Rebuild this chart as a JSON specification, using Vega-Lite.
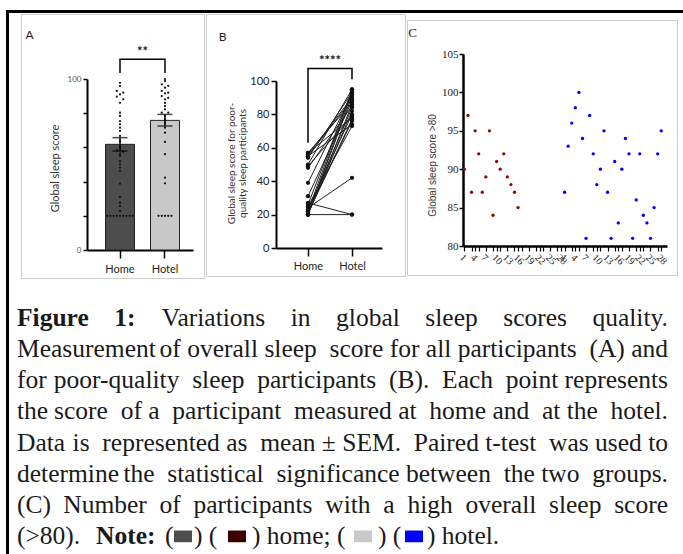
{
  "$schema": "https://vega.github.io/schema/vega-lite/v6.json",
  "background": "white",
  "padding": {"left": 6, "top": 10, "right": 0, "bottom": 0},
  "spacing": 0,
  "resolve": {"scale": {"color": "independent", "fill": "independent"}},
  "datasets": {
    "aSum": [
      {"g": "Home", "mean": 61.8, "lo": 57.9, "hi": 65.7},
      {"g": "Hotel", "mean": 75.8, "lo": 72.5, "hi": 79.3}
    ],
    "aDots": [
      {"g": "Home", "v": 97.8, "j": 0}, {"g": "Home", "v": 95.9, "j": 0}, {"g": "Home", "v": 93, "j": -1}, {"g": "Home", "v": 92, "j": 1},
      {"g": "Home", "v": 91, "j": 0}, {"g": "Home", "v": 89.7, "j": -1}, {"g": "Home", "v": 88.1, "j": 1}, {"g": "Home", "v": 86.1, "j": 0},
      {"g": "Home", "v": 80.3, "j": 0}, {"g": "Home", "v": 78.4, "j": 0}, {"g": "Home", "v": 75.4, "j": 0}, {"g": "Home", "v": 73.5, "j": 0},
      {"g": "Home", "v": 71.5, "j": 0}, {"g": "Home", "v": 69.6, "j": 0}, {"g": "Home", "v": 66.7, "j": 0}, {"g": "Home", "v": 63.7, "j": 0},
      {"g": "Home", "v": 60.2, "j": 0}, {"g": "Home", "v": 58.3, "j": -1}, {"g": "Home", "v": 57.5, "j": 1}, {"g": "Home", "v": 56.3, "j": 0},
      {"g": "Home", "v": 55, "j": 0}, {"g": "Home", "v": 52, "j": 0}, {"g": "Home", "v": 50.1, "j": 0}, {"g": "Home", "v": 48.1, "j": 0},
      {"g": "Home", "v": 46.2, "j": 0}, {"g": "Home", "v": 38.8, "j": 0}, {"g": "Home", "v": 31, "j": 0}, {"g": "Home", "v": 27.7, "j": 0},
      {"g": "Home", "v": 25.7, "j": 0}, {"g": "Home", "v": 22.8, "j": 0},
      {"g": "Home", "v": 20, "j": -4}, {"g": "Home", "v": 20, "j": -3}, {"g": "Home", "v": 20, "j": -2}, {"g": "Home", "v": 20, "j": -1},
      {"g": "Home", "v": 20, "j": 0}, {"g": "Home", "v": 20, "j": 1}, {"g": "Home", "v": 20, "j": 2}, {"g": "Home", "v": 20, "j": 3},
      {"g": "Home", "v": 20, "j": 4},
      {"g": "Hotel", "v": 100, "j": 0}, {"g": "Hotel", "v": 98.8, "j": 0}, {"g": "Hotel", "v": 96.9, "j": -1}, {"g": "Hotel", "v": 96, "j": 1},
      {"g": "Hotel", "v": 94.9, "j": 0}, {"g": "Hotel", "v": 93, "j": -1}, {"g": "Hotel", "v": 92, "j": 1}, {"g": "Hotel", "v": 91.6, "j": 0},
      {"g": "Hotel", "v": 90, "j": -1}, {"g": "Hotel", "v": 89, "j": 1}, {"g": "Hotel", "v": 88.1, "j": 0}, {"g": "Hotel", "v": 86.1, "j": 0},
      {"g": "Hotel", "v": 84.2, "j": 0}, {"g": "Hotel", "v": 82.3, "j": 0}, {"g": "Hotel", "v": 80.3, "j": -1}, {"g": "Hotel", "v": 80.3, "j": 1},
      {"g": "Hotel", "v": 78.4, "j": 0}, {"g": "Hotel", "v": 76.4, "j": 0}, {"g": "Hotel", "v": 74.4, "j": 0}, {"g": "Hotel", "v": 71.5, "j": 0},
      {"g": "Hotel", "v": 68.6, "j": 0}, {"g": "Hotel", "v": 63.2, "j": 0}, {"g": "Hotel", "v": 56, "j": 0}, {"g": "Hotel", "v": 42.3, "j": 0},
      {"g": "Hotel", "v": 39, "j": 0},
      {"g": "Hotel", "v": 20, "j": -2}, {"g": "Hotel", "v": 20, "j": -1}, {"g": "Hotel", "v": 20, "j": 0}, {"g": "Hotel", "v": 20, "j": 1},
      {"g": "Hotel", "v": 20, "j": 2}
    ],
    "aBr": [
      {"g": "Home", "y": 103.5, "o": 1}, {"g": "Home", "y": 111.5, "o": 2},
      {"g": "Hotel", "y": 111.5, "o": 3}, {"g": "Hotel", "y": 103.5, "o": 4}
    ],
    "bBr": [
      {"g": "Home", "y": 63, "o": 1}, {"g": "Home", "y": 107.5, "o": 2},
      {"g": "Hotel", "y": 107.5, "o": 3}, {"g": "Hotel", "y": 101, "o": 4}
    ],
    "bPairs": [
      {"id": 1, "g": "Home", "v": 57}, {"id": 1, "g": "Hotel", "v": 87},
      {"id": 2, "g": "Home", "v": 56}, {"id": 2, "g": "Hotel", "v": 90},
      {"id": 3, "g": "Home", "v": 55}, {"id": 3, "g": "Hotel", "v": 74},
      {"id": 4, "g": "Home", "v": 54}, {"id": 4, "g": "Hotel", "v": 93},
      {"id": 5, "g": "Home", "v": 57}, {"id": 5, "g": "Hotel", "v": 78},
      {"id": 6, "g": "Home", "v": 50}, {"id": 6, "g": "Hotel", "v": 95},
      {"id": 7, "g": "Home", "v": 48}, {"id": 7, "g": "Hotel", "v": 85},
      {"id": 8, "g": "Home", "v": 39}, {"id": 8, "g": "Hotel", "v": 92},
      {"id": 9, "g": "Home", "v": 31}, {"id": 9, "g": "Hotel", "v": 88},
      {"id": 10, "g": "Home", "v": 27}, {"id": 10, "g": "Hotel", "v": 20},
      {"id": 11, "g": "Home", "v": 24}, {"id": 11, "g": "Hotel", "v": 42},
      {"id": 12, "g": "Home", "v": 20}, {"id": 12, "g": "Hotel", "v": 20},
      {"id": 13, "g": "Home", "v": 26}, {"id": 13, "g": "Hotel", "v": 94},
      {"id": 14, "g": "Home", "v": 23}, {"id": 14, "g": "Hotel", "v": 80},
      {"id": 15, "g": "Home", "v": 22}, {"id": 15, "g": "Hotel", "v": 84},
      {"id": 16, "g": "Home", "v": 21}, {"id": 16, "g": "Hotel", "v": 76},
      {"id": 17, "g": "Home", "v": 20}, {"id": 17, "g": "Hotel", "v": 91},
      {"id": 18, "g": "Home", "v": 20}, {"id": 18, "g": "Hotel", "v": 86},
      {"id": 19, "g": "Home", "v": 25}, {"id": 19, "g": "Hotel", "v": 73},
      {"id": 20, "g": "Home", "v": 20}, {"id": 20, "g": "Hotel", "v": 82},
      {"id": 21, "g": "Home", "v": 22}, {"id": 21, "g": "Hotel", "v": 95},
      {"id": 22, "g": "Home", "v": 55}, {"id": 22, "g": "Hotel", "v": 89},
      {"id": 23, "g": "Home", "v": 49}, {"id": 23, "g": "Hotel", "v": 79},
      {"id": 24, "g": "Home", "v": 20}, {"id": 24, "g": "Hotel", "v": 93},
      {"id": 25, "g": "Home", "v": 21}, {"id": 25, "g": "Hotel", "v": 77}
    ],
    "cPts": [
      {"k": "H1", "v": 90, "grp": "home"}, {"k": "H2", "v": 97, "grp": "home"}, {"k": "H3", "v": 87, "grp": "home"}, {"k": "H4", "v": 95, "grp": "home"},
      {"k": "H5", "v": 92, "grp": "home"}, {"k": "H6", "v": 87, "grp": "home"}, {"k": "H7", "v": 89, "grp": "home"}, {"k": "H8", "v": 95, "grp": "home"},
      {"k": "H9", "v": 84, "grp": "home"}, {"k": "H10", "v": 91, "grp": "home"}, {"k": "H11", "v": 90, "grp": "home"}, {"k": "H12", "v": 92, "grp": "home"},
      {"k": "H13", "v": 89, "grp": "home"}, {"k": "H14", "v": 88, "grp": "home"}, {"k": "H15", "v": 87, "grp": "home"}, {"k": "H16", "v": 85, "grp": "home"},
      {"k": "T1", "v": 87, "grp": "hotel"}, {"k": "T2", "v": 93, "grp": "hotel"}, {"k": "T3", "v": 96, "grp": "hotel"}, {"k": "T4", "v": 98, "grp": "hotel"},
      {"k": "T5", "v": 100, "grp": "hotel"}, {"k": "T6", "v": 94, "grp": "hotel"}, {"k": "T7", "v": 81, "grp": "hotel"}, {"k": "T8", "v": 97, "grp": "hotel"},
      {"k": "T9", "v": 92, "grp": "hotel"}, {"k": "T10", "v": 88, "grp": "hotel"}, {"k": "T11", "v": 90, "grp": "hotel"}, {"k": "T12", "v": 95, "grp": "hotel"},
      {"k": "T13", "v": 87, "grp": "hotel"}, {"k": "T14", "v": 81, "grp": "hotel"}, {"k": "T15", "v": 91, "grp": "hotel"}, {"k": "T16", "v": 83, "grp": "hotel"},
      {"k": "T17", "v": 90, "grp": "hotel"}, {"k": "T18", "v": 94, "grp": "hotel"}, {"k": "T19", "v": 92, "grp": "hotel"}, {"k": "T20", "v": 81, "grp": "hotel"},
      {"k": "T21", "v": 86, "grp": "hotel"}, {"k": "T22", "v": 92, "grp": "hotel"}, {"k": "T23", "v": 84, "grp": "hotel"}, {"k": "T24", "v": 83, "grp": "hotel"},
      {"k": "T25", "v": 81, "grp": "hotel"}, {"k": "T26", "v": 85, "grp": "hotel"}, {"k": "T27", "v": 92, "grp": "hotel"}, {"k": "T28", "v": 95, "grp": "hotel"}
    ],
    "capL": [
      {"line": 2, "p": 0, "t": "Measurement"},
      {"line": 3, "p": 0, "t": "for"},
      {"line": 4, "p": 0, "t": "the"},
      {"line": 5, "p": 0, "t": "Data"},
      {"line": 6, "p": 0, "t": "determine"},
      {"line": 7, "p": 0, "t": "(C)"},
      {"line": 8, "p": 0, "t": "(>80)."},
      {"line": 8, "p": 148, "t": "("},
      {"line": 8, "p": 177, "t": ") ("},
      {"line": 8, "p": 235, "t": ") home; ("},
      {"line": 8, "p": 361, "t": ") ("},
      {"line": 8, "p": 410, "t": ") hotel."}
    ],
    "capB": [
      {"line": 1, "p": 0, "t": "Figure\u00a0\u00a0\u00a0 1:"},
      {"line": 8, "p": 79, "t": "Note:"}
    ],
    "capR": [
      {"line": 1, "p": 651, "t": "Variations\u00a0\u00a0\u00a0 in\u00a0\u00a0\u00a0 global\u00a0\u00a0\u00a0 sleep\u00a0\u00a0\u00a0 scores\u00a0\u00a0\u00a0 quality."},
      {"line": 2, "p": 651, "t": "of overall sleep\u00a0 score for all participants\u00a0 (A) and"},
      {"line": 3, "p": 651, "t": "poor-quality\u00a0 sleep\u00a0 participants\u00a0 (B).\u00a0 Each\u00a0 point represents"},
      {"line": 4, "p": 651, "t": "score\u00a0 of a\u00a0 participant\u00a0 measured at\u00a0 home and\u00a0 at the\u00a0 hotel."},
      {"line": 5, "p": 651, "t": "is\u00a0 represented as\u00a0 mean ± SEM.\u00a0 Paired t-test\u00a0 was used to"},
      {"line": 6, "p": 651, "t": "the\u00a0 statistical\u00a0 significance between\u00a0 the two\u00a0 groups."},
      {"line": 7, "p": 651, "t": "Number\u00a0 of\u00a0 participants\u00a0 with\u00a0 a\u00a0 high\u00a0 overall\u00a0 sleep\u00a0 score"}
    ],
    "capSq": [
      {"line": 8, "p": 166, "k": "Home (A)"},
      {"line": 8, "p": 220, "k": "Home (C)"},
      {"line": 8, "p": 346, "k": "Hotel (A)"},
      {"line": 8, "p": 397, "k": "Hotel (C)"}
    ]
  },
  "vconcat": [
    {
      "width": 675, "height": 1,
      "view": {"stroke": "#000", "fill": "#000", "strokeWidth": 2},
      "data": {"values": []},
      "mark": "point",
      "encoding": {}
    },
    {
      "spacing": 8,
      "resolve": {"scale": {"color": "independent", "fill": "independent"}},
      "hconcat": [
        {
          "width": 1, "height": 539,
          "view": {"stroke": "#000", "fill": "#000", "strokeWidth": 2},
          "data": {"values": []},
          "mark": "point",
          "encoding": {}
        },
        {
          "spacing": 23,
          "resolve": {"scale": {"color": "independent", "fill": "independent"}},
          "vconcat": [
            {
              "spacing": 0,
              "resolve": {"scale": {"color": "independent", "fill": "independent"}},
              "hconcat": [
                {
                  "width": 3, "height": 1,
                  "view": {"stroke": null, "fill": "#ffffff"},
                  "data": {"values": []},
                  "mark": "point",
                  "encoding": {}
                },
                {
                  "width": 183, "height": 264,
                  "view": {"stroke": "#cccccc", "strokeWidth": 1},
                  "layer": [
                    {
                      "data": {"name": "aSum"},
                      "mark": {"type": "bar", "stroke": "#222", "strokeWidth": 1, "width": 29},
                      "encoding": {
                        "x": {
                          "field": "g", "type": "nominal",
                          "scale": {"domain": ["Home", "Hotel"], "range": [66, 172], "paddingInner": 0.356, "paddingOuter": 0.356, "align": 0.578},
                          "axis": {
                            "orient": "bottom", "offset": -28, "tickSize": 8, "tickWidth": 1.5, "domainWidth": 2,
                            "labelFontSize": 11, "labelColor": "#222", "labelPadding": 5, "labelAngle": 0,
                            "title": "A", "titleX": 8, "titleY": -216, "titleFontSize": 12, "titleFontWeight": "normal",
                            "titleAlign": "center", "titleBaseline": "middle", "titleColor": "#222", "titleAngle": 0
                          }
                        },
                        "y": {
                          "field": "mean", "type": "quantitative",
                          "scale": {"domain": [0, 100], "range": [236, 65], "nice": false},
                          "axis": {
                            "orient": "left", "offset": -66, "values": [0, 10, 20, 30, 40, 50, 60, 70, 80, 90, 100],
                            "labelExpr": "datum.value % 50 === 0 ? datum.label : ''",
                            "tickSize": 4, "tickWidth": 1.5, "domainWidth": 2, "labelFontSize": 8, "labelColor": "#555", "labelPadding": 2,
                            "title": "Global sleep score", "titleFontSize": 11, "titleColor": "#333", "titleFontWeight": "normal",
                            "titleX": -32, "titleY": 154, "titleAngle": -90, "titleAlign": "center", "titleBaseline": "middle"
                          }
                        },
                        "fill": {"field": "g", "type": "nominal", "scale": {"domain": ["Home", "Hotel"], "range": ["#4d4d4d", "#c8c8c8"]}, "legend": null}
                      }
                    },
                    {
                      "data": {"name": "aDots"},
                      "mark": {"type": "circle", "size": 5, "color": "#111", "opacity": 1},
                      "encoding": {
                        "x": {"field": "g", "type": "nominal"},
                        "xOffset": {"field": "j", "type": "ordinal", "scale": {"domain": [-4, -3, -2, -1, 0, 1, 2, 3, 4]}},
                        "y": {"field": "v", "type": "quantitative"}
                      }
                    },
                    {
                      "data": {"name": "aSum"},
                      "mark": {"type": "rule", "color": "#000", "strokeWidth": 1.5},
                      "encoding": {
                        "x": {"field": "g", "type": "nominal"},
                        "y": {"field": "lo", "type": "quantitative"},
                        "y2": {"field": "hi"}
                      }
                    },
                    {
                      "data": {"name": "aSum"},
                      "mark": {"type": "tick", "color": "#000", "size": 15, "thickness": 1.5},
                      "encoding": {
                        "x": {"field": "g", "type": "nominal"},
                        "y": {"field": "lo", "type": "quantitative"}
                      }
                    },
                    {
                      "data": {"name": "aSum"},
                      "mark": {"type": "tick", "color": "#000", "size": 15, "thickness": 1.5},
                      "encoding": {
                        "x": {"field": "g", "type": "nominal"},
                        "y": {"field": "hi", "type": "quantitative"}
                      }
                    },
                    {
                      "data": {"name": "aBr"},
                      "mark": {"type": "line", "color": "#000", "strokeWidth": 1.5},
                      "encoding": {
                        "x": {"field": "g", "type": "nominal"},
                        "y": {"field": "y", "type": "quantitative"},
                        "order": {"field": "o"}
                      }
                    },
                    {
                      "data": {"values": [{"t": "**"}]},
                      "mark": {"type": "text", "font": "Lato", "fontSize": 13, "fontWeight": "bold", "color": "#111", "dx": 22.5, "baseline": "middle"},
                      "encoding": {
                        "x": {"datum": "Home"},
                        "y": {"datum": 116},
                        "text": {"field": "t"}
                      }
                    }
                  ]
                },
                {
                  "width": 199, "height": 262,
                  "view": {"stroke": "#cccccc", "strokeWidth": 1},
                  "layer": [
                    {
                      "data": {"name": "bPairs"},
                      "mark": {"type": "line", "color": "#222", "strokeWidth": 1},
                      "encoding": {
                        "x": {
                          "field": "g", "type": "nominal",
                          "scale": {"type": "point", "domain": ["Home", "Hotel"], "range": [70, 176], "padding": 0.7045, "align": 0.516},
                          "axis": {
                            "orient": "bottom", "offset": -28, "tickSize": 8, "tickWidth": 1.5, "domainWidth": 2,
                            "labelFontSize": 11, "labelColor": "#222", "labelPadding": 4, "labelAngle": 0,
                            "title": "B", "titleX": 16, "titleY": -212, "titleFontSize": 12, "titleFontWeight": "normal",
                            "titleAlign": "center", "titleBaseline": "middle", "titleColor": "#222", "titleAngle": 0
                          }
                        },
                        "y": {
                          "field": "v", "type": "quantitative",
                          "scale": {"domain": [0, 100], "range": [234, 67], "nice": false},
                          "axis": {
                            "orient": "left", "offset": -70, "values": [0, 20, 40, 60, 80, 100],
                            "tickSize": 5, "tickWidth": 1.5, "domainWidth": 2, "labelFontSize": 11, "labelColor": "#222", "labelPadding": 2,
                            "title": ["Global sleep score for poor-", "quality sleep participants"], "titleFontSize": 10, "titleLineHeight": 11,
                            "titleColor": "#333", "titleFontWeight": "normal",
                            "titleX": -45, "titleY": 149, "titleAngle": -90, "titleAlign": "center", "titleBaseline": "middle"
                          }
                        },
                        "detail": {"field": "id"}
                      }
                    },
                    {
                      "data": {"name": "bPairs"},
                      "mark": {"type": "circle", "size": 18, "color": "#111", "opacity": 1},
                      "encoding": {
                        "x": {"field": "g", "type": "nominal"},
                        "y": {"field": "v", "type": "quantitative"}
                      }
                    },
                    {
                      "data": {"name": "bBr"},
                      "mark": {"type": "line", "color": "#000", "strokeWidth": 1.5},
                      "encoding": {
                        "x": {"field": "g", "type": "nominal"},
                        "y": {"field": "y", "type": "quantitative"},
                        "order": {"field": "o"}
                      }
                    },
                    {
                      "data": {"values": [{"t": "****"}]},
                      "mark": {"type": "text", "font": "Lato", "fontSize": 13, "fontWeight": "bold", "color": "#111", "dx": 22, "baseline": "middle"},
                      "encoding": {
                        "x": {"datum": "Home"},
                        "y": {"datum": 112},
                        "text": {"field": "t"}
                      }
                    }
                  ]
                },
                {
                  "spacing": 4,
                  "vconcat": [
                    {
                      "width": 1, "height": 1,
                      "view": {"stroke": null, "fill": "#ffffff"},
                      "data": {"values": []},
                      "mark": "point",
                      "encoding": {}
                    },
                    {
                      "width": 270, "height": 255,
                      "view": {"stroke": "#cccccc", "strokeWidth": 1},
                      "data": {"name": "cPts"},
                      "mark": {"type": "circle", "size": 11, "opacity": 1},
                      "encoding": {
                        "x": {
                          "field": "k", "type": "nominal",
                          "scale": {
                            "type": "point",
                            "domain": ["H1","H2","H3","H4","H5","H6","H7","H8","H9","H10","H11","H12","H13","H14","H15","H16","H17","H18","H19","H20","H21","H22","H23","H24","H25","H26","H27","H28",
                                       "T1","T2","T3","T4","T5","T6","T7","T8","T9","T10","T11","T12","T13","T14","T15","T16","T17","T18","T19","T20","T21","T22","T23","T24","T25","T26","T27","T28"],
                            "range": [56, 260], "padding": 1.462, "align": 0.194
                          },
                          "axis": {
                            "orient": "bottom", "offset": -29,
                            "values": ["H1","H3","H4","H5","H7","H9","H10","H11","H13","H15","H16","H17","H19","H21","H22","H23","H25","H27","H28",
                                       "T1","T3","T4","T5","T7","T9","T10","T11","T13","T15","T16","T17","T19","T21","T22","T23","T25","T27","T28"],
                            "labelExpr": "indexof(['1','4','7','10','13','16','19','22','25','28'], slice(datum.value, 1)) >= 0 ? slice(datum.value, 1) : ''",
                            "labelAngle": 45, "labelFont": "Liberation Sans Narrow", "labelFontSize": 10, "labelColor": "#222", "labelPadding": 1,
                            "tickSize": 5, "tickWidth": 1.2, "domainWidth": 2.5,
                            "title": "C", "titleX": 5, "titleY": -214, "titleFont": "Liberation Sans Narrow", "titleFontSize": 13, "titleFontWeight": "normal",
                            "titleAlign": "center", "titleBaseline": "middle", "titleColor": "#222", "titleAngle": 0
                          }
                        },
                        "y": {
                          "field": "v", "type": "quantitative",
                          "scale": {"domain": [80, 105], "range": [226, 34], "nice": false, "zero": false},
                          "axis": {
                            "orient": "left", "offset": -56, "values": [80, 85, 90, 95, 100, 105],
                            "tickSize": 4, "tickWidth": 1.5, "domainWidth": 2.5,
                            "labelFont": "Liberation Sans Narrow", "labelFontSize": 11, "labelColor": "#222", "labelPadding": 1,
                            "title": "Global sleep score >80", "titleFont": "Liberation Sans", "titleFontSize": 10, "titleColor": "#333", "titleFontWeight": "normal",
                            "titleX": -31, "titleY": 145, "titleAngle": -90, "titleAlign": "center", "titleBaseline": "middle"
                          }
                        },
                        "color": {"field": "grp", "type": "nominal", "scale": {"domain": ["home", "hotel"], "range": ["#8b0a0a", "#0000ff"]}, "legend": null}
                      }
                    }
                  ]
                }
              ]
            },
            {
              "width": 651, "height": 250,
              "view": {"stroke": null},
              "encoding": {
                "x": {"field": "p", "type": "quantitative", "scale": {"domain": [0, 651], "range": [0, 651], "nice": false, "zero": false}, "axis": null},
                "y": {"field": "line", "type": "ordinal", "scale": {"type": "point", "domain": [1, 2, 3, 4, 5, 6, 7, 8], "padding": 0.5}, "axis": null}
              },
              "layer": [
                {
                  "data": {"name": "capL"},
                  "mark": {"type": "text", "font": "Liberation Serif", "fontSize": 25.5, "color": "#1a1a1a", "align": "left", "baseline": "middle"},
                  "encoding": {"text": {"field": "t"}}
                },
                {
                  "data": {"name": "capB"},
                  "mark": {"type": "text", "font": "Liberation Serif", "fontSize": 25.5, "fontWeight": "bold", "color": "#1a1a1a", "align": "left", "baseline": "middle"},
                  "encoding": {"text": {"field": "t"}}
                },
                {
                  "data": {"name": "capR"},
                  "mark": {"type": "text", "font": "Liberation Serif", "fontSize": 25.5, "color": "#1a1a1a", "align": "right", "baseline": "middle"},
                  "encoding": {"text": {"field": "t"}}
                },
                {
                  "data": {"name": "capSq"},
                  "mark": {"type": "point", "shape": "M-1,-0.65L1,-0.65L1,0.65L-1,0.65Z", "size": 324, "filled": true, "opacity": 1, "strokeWidth": 0},
                  "encoding": {
                    "color": {"field": "k", "type": "nominal", "scale": {"domain": ["Home (A)", "Home (C)", "Hotel (A)", "Hotel (C)"], "range": ["#4d4d4d", "#3d0000", "#c8c8c8", "#0000ff"]}, "legend": null}
                  }
                }
              ]
            }
          ]
        }
      ]
    }
  ],
  "config": {
    "view": {"stroke": null},
    "axis": {"grid": false, "domainColor": "#000", "tickColor": "#000", "labelFont": "Lato", "titleFont": "Lato"},
    "text": {"font": "Liberation Serif"}
  }
}
